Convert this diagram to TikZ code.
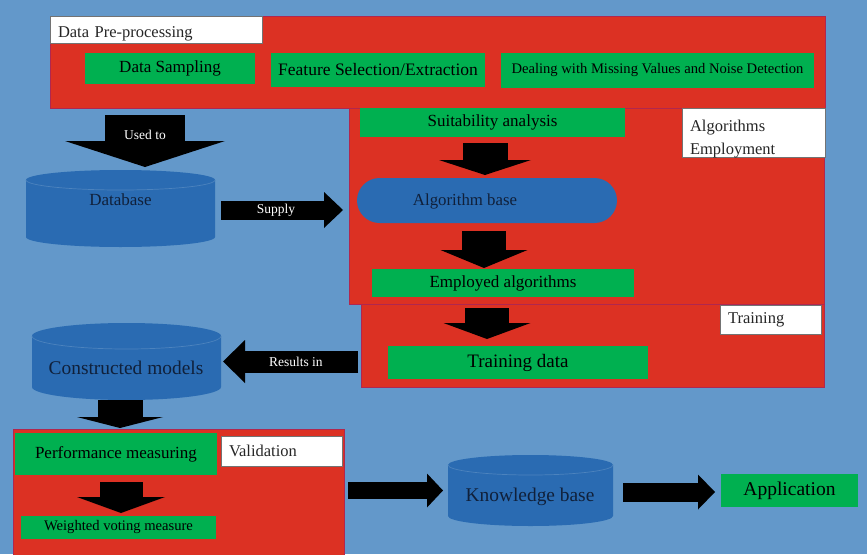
\documentclass[tikz,border=0pt]{standalone}
\usepackage{fontspec}
\setmainfont{Liberation Serif}
\usepackage{xcolor}
\usetikzlibrary{arrows.meta,positioning,calc}

\definecolor{bgblue}{HTML}{6398CA}
\definecolor{boxred}{HTML}{DC3123}
\definecolor{boxgreen}{HTML}{00B050}
\definecolor{cylblue}{HTML}{2A6BB2}
\definecolor{inktext}{HTML}{10203A}

% cylinder body over a plain (invisible) node: #1 node name, #2 end radius
\newcommand\drawcyl[2]{%
  \fill[cylblue] ($(#1.north west)+(0,#2)$)
      .. controls ($(#1.north west)+(0,0.4477*#2)$) and ($(#1.north)!0.5523!(#1.north west)$) .. (#1.north)
      .. controls ($(#1.north)!0.5523!(#1.north east)$) and ($(#1.north east)+(0,0.4477*#2)$) .. ($(#1.north east)+(0,#2)$)
      -- ($(#1.south east)+(0,-#2)$)
      .. controls ($(#1.south east)+(0,-0.4477*#2)$) and ($(#1.south)!0.5523!(#1.south east)$) .. (#1.south)
      .. controls ($(#1.south)!0.5523!(#1.south west)$) and ($(#1.south west)+(0,-0.4477*#2)$) .. ($(#1.south west)+(0,-#2)$)
      -- cycle;
  \draw[cylblue!84!white,line width=0.7pt] ($(#1.north west)+(0,#2)$)
      .. controls ($(#1.north west)+(0,1.5523*#2)$) and ($($(#1.north)!0.5523!(#1.north west)$)+(0,2*#2)$) .. ($(#1.north)+(0,2*#2)$)
      .. controls ($($(#1.north)!0.5523!(#1.north east)$)+(0,2*#2)$) and ($(#1.north east)+(0,1.5523*#2)$) .. ($(#1.north east)+(0,#2)$);
}

\begin{document}
\begin{tikzpicture}[x=1pt,y=-1pt,
    every node/.style={inner sep=0pt,outer sep=0pt},
    redbox/.style={rectangle,fill=boxred,draw=boxred!80!blue,line width=0.5pt,anchor=north west},
    greenbox/.style={rectangle,fill=boxgreen,anchor=north west,text=black,font=\fontsize{17}{20}\selectfont},
    titlebox/.style={rectangle,fill=white,draw=black!55,line width=0.6pt,anchor=north west,
        inner xsep=8pt,align=left,text=black!85,font=\fontsize{16.5}{23}\selectfont},
    cylnode/.style={rectangle},
    cyltext/.style={text=inktext,font=\fontsize{17}{20}\selectfont},
    blockarrow/.style n args={3}{draw=black,line width=#1,-{Triangle[width=#2,length=#3,line width=0pt]}},
    arrowtext/.style={text=white,font=\fontsize{13.5}{15}\selectfont},
]
\path[use as bounding box,fill=bgblue] (0,0) rectangle (867,554);

% red group boxes
\node[redbox,minimum width=775,minimum height=92]  (prep)   at (50,16)  {};
\node[redbox,minimum width=475,minimum height=196] (algemp) at (349,108) {};
\node[redbox,minimum width=463,minimum height=83]  (train)  at (361,304) {};
\node[redbox,minimum width=331,minimum height=127] (valid)  at (13,429)  {};

% group titles
\node[titlebox,minimum width=212,minimum height=27,text width=196,text height=20pt] (preptitle) at (50,16) {Data Pre-processing};
\node[titlebox,minimum width=143,minimum height=49,text width=127,text height=23pt] (algemptitle) at (682,108) {Algorithms\\Employment};
\node[titlebox,minimum width=101,minimum height=29,text width=85]  (traintitle)  at (720,305) {Training};
\node[titlebox,minimum width=121,minimum height=30,text width=105] (validtitle)  at (221,436) {Validation};

% green steps
\node[greenbox,minimum width=170,minimum height=31] (samp) at (85,53)  {Data Sampling};
\node[greenbox,minimum width=214,minimum height=34,font=\fontsize{17.5}{20}\selectfont] (feat) at (271,53) {Feature Selection/Extraction};
\node[greenbox,minimum width=313,minimum height=35,font=\fontsize{14.6}{17}\selectfont] (deal) at (501,53) {Dealing with Missing Values and Noise Detection};
\node[greenbox,minimum width=265,minimum height=29] (suit)   at (360,108) {Suitability analysis};
\node[greenbox,minimum width=262,minimum height=28] (employ) at (372,269) {Employed algorithms};
\node[greenbox,minimum width=260,minimum height=33,font=\fontsize{19}{22}\selectfont] (tdata) at (388,346) {Training data};
\node[greenbox,minimum width=202,minimum height=42] (perf)  at (15,433) {Performance measuring};
\node[greenbox,minimum width=195,minimum height=23,font=\fontsize{14.6}{17}\selectfont] (wvote) at (21,516) {Weighted voting measure};
\node[greenbox,minimum width=137,minimum height=33,font=\fontsize{19.5}{22}\selectfont] (app) at (721,474) {Application};

% stores
\node[rectangle,rounded corners=22.5pt,fill=cylblue,minimum width=260,minimum height=45,anchor=north west] (algbase) at (357,178) {};
\node[cyltext,font=\fontsize{16.8}{20}\selectfont] (algbasetext) at (465,201) {Algorithm base};
\node[cylnode,minimum width=189,minimum height=77] (db) at (120.5,208.5) {};
\drawcyl{db}{10}
\node[cyltext] (dbtext) at (120.5,200) {Database};
\node[cylnode,minimum width=189,minimum height=77] (cm) at (126.5,361.5) {};
\drawcyl{cm}{13}
\node[cyltext,font=\fontsize{19.4}{22}\selectfont] (cmtext) at (126,368) {Constructed models};
\node[cylnode,minimum width=165,minimum height=71] (kb) at (530.5,490.5) {};
\drawcyl{kb}{10}
\node[cyltext,font=\fontsize{19.4}{22}\selectfont] (kbtext) at (530,497) {Knowledge base};

% block arrows
\draw[blockarrow={80pt}{160pt}{26pt}] ($(prep.south -| db.north)+(24.5,7)$) -- node[arrowtext,pos=0.385] (usedto) {Used to} ($(db.north)+(24.5,-3)$);
\draw[blockarrow={19pt}{36pt}{19pt}] ($(db.east)+(6,1.5)$) -- node[arrowtext,pos=0.45] (supply) {Supply} ($(algemp.west |- db.east)+(-6,1.5)$);
\draw[blockarrow={45pt}{92pt}{15pt}] ($(suit.south)+(-7.5,6)$) -- ($(suit.south |- algbase.north)+(-7.5,-3)$);
\draw[blockarrow={44pt}{87pt}{18pt}] ($(algbase.south)+(-3,8)$) -- ($(algbase.south |- employ.north)+(-3,-1)$);
\draw[blockarrow={44pt}{87pt}{16pt}] ($(employ.south)+(-16,11)$) -- ($(employ.south |- tdata.north)+(-16,-7)$);
\draw[blockarrow={22pt}{43pt}{22pt}] ($(train.west |- cm.east)+(-3,0)$) -- node[arrowtext,pos=0.46] (resultsin) {Results in} ($(cm.east)+(2,0)$);
\draw[blockarrow={45pt}{86pt}{11pt}] ($(cm.south)+(-6.5,0)$) -- ($(cm.south |- valid.north)+(-6.5,-1)$);
\draw[blockarrow={43pt}{88pt}{16pt}] ($(perf.south)+(5,7)$) -- ($(perf.south |- wvote.north)+(5,-3)$);
\draw[blockarrow={17pt}{34pt}{16pt}] ($(valid.east |- kb.west)+(4,0)$) -- ($(kb.west)+(-5,0)$);
\draw[blockarrow={19pt}{35pt}{17pt}] ($(kb.east)+(10,1.5)$) -- ($(app.west |- kb.east)+(-6,1.5)$);
\end{tikzpicture}
\end{document}
